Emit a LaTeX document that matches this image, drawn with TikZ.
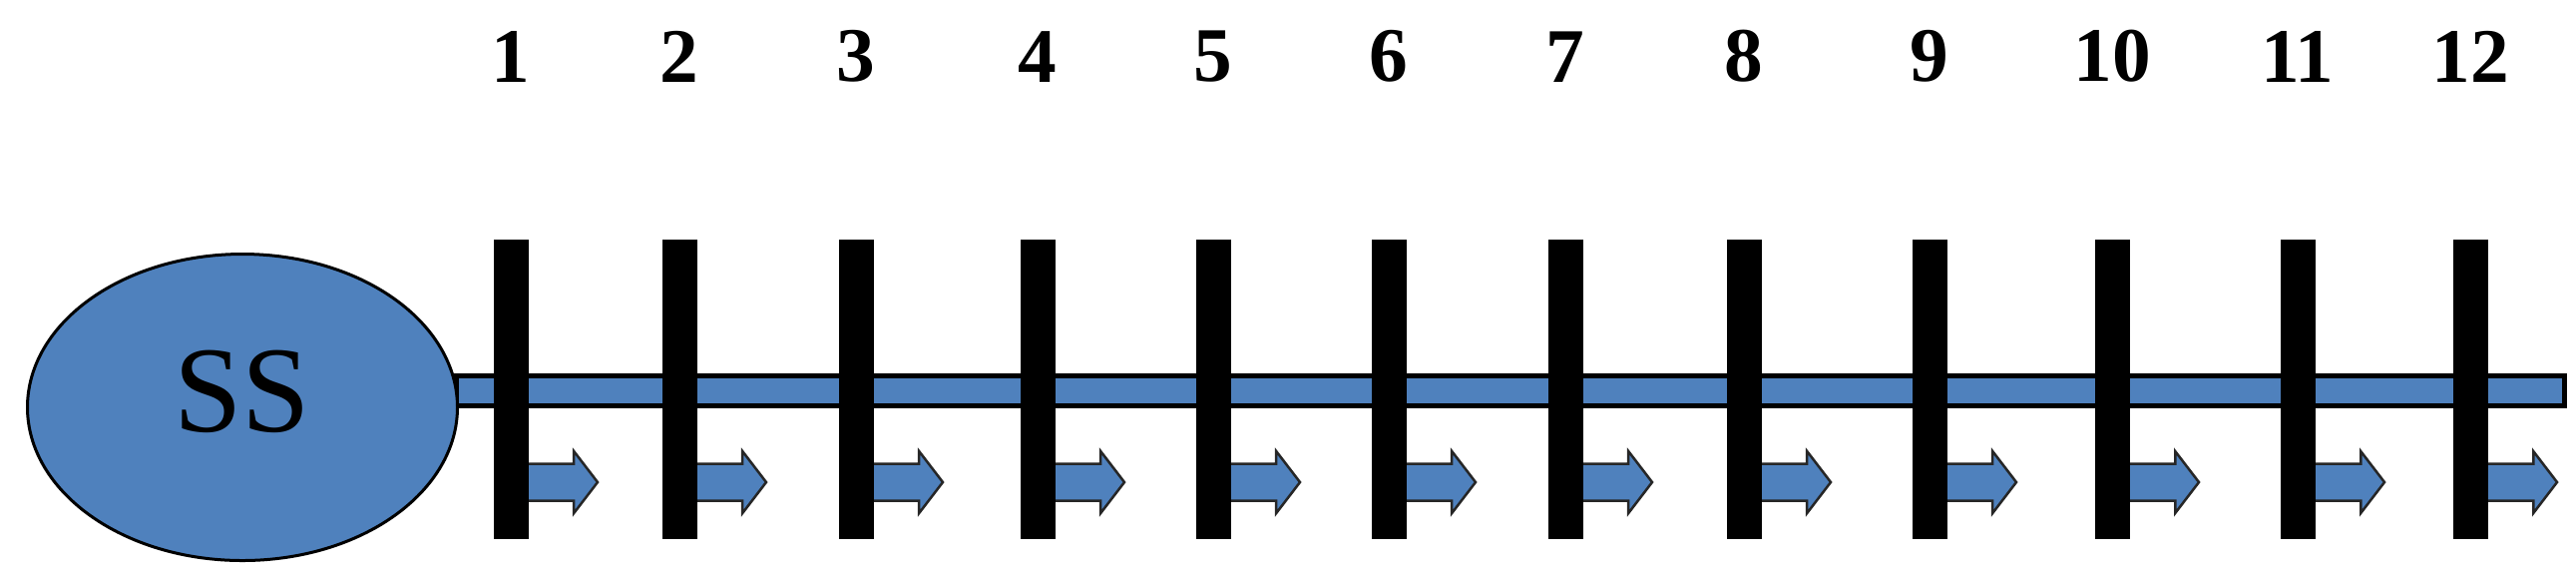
\documentclass[tikz,border=0pt]{standalone}
\usepackage{fontspec}
\setmainfont{Liberation Serif}
\usepackage{xcolor}
\usetikzlibrary{positioning,shapes.geometric,shapes.arrows}
\definecolor{busblue}{HTML}{4F81BD}

\begin{document}
\begin{tikzpicture}[x=0.1mm,y=-0.1mm,node distance=15.8mm,outer sep=0pt]
    \tikzstyle{BUS} = [rectangle, draw=black, line width=0.5mm, fill=busblue, inner sep=0pt, minimum width=211.3mm, minimum height=3mm]
    \tikzstyle{SRC} = [ellipse, draw=black, line width=0.3mm, fill=busblue, inner sep=0pt, minimum width=43.1mm, minimum height=30.7mm, text depth=3.2mm, font=\fontsize{35}{38}\selectfont]
    \tikzstyle{SW} = [rectangle, fill=black, inner sep=0pt, minimum width=3.5mm, minimum height=30mm]
    \tikzstyle{NUM} = [inner sep=0pt, font=\fontsize{22}{26}\selectfont\bfseries]
    \tikzstyle{FLOW} = [single arrow, draw=black!85, line width=0.25mm, fill=busblue, inner sep=0pt, text height=3.45mm, text depth=0pt, minimum height=7.7mm, single arrow head extend=1.25mm, single arrow tip angle=105, anchor=tail]
    \useasboundingbox (0,0) rectangle (2582,584);
    \node (bus) [BUS] at (1514,391.5) {};
    \node (ss)  [SRC] at (243,408) {SS};
    \foreach \i/\x in {1/512,2/681,3/858,4/1040,5/1216,6/1392,7/1569,8/1748,9/1934,10/2117,11/2303,12/2476} {
        \node (f\i) [FLOW] at (\x+10,483) {};
        \node (b\i) [SW] at (\x,390) {};
        \node (n\i) [NUM,above=of b\i] {\i};
    }
\end{tikzpicture}
\end{document}
